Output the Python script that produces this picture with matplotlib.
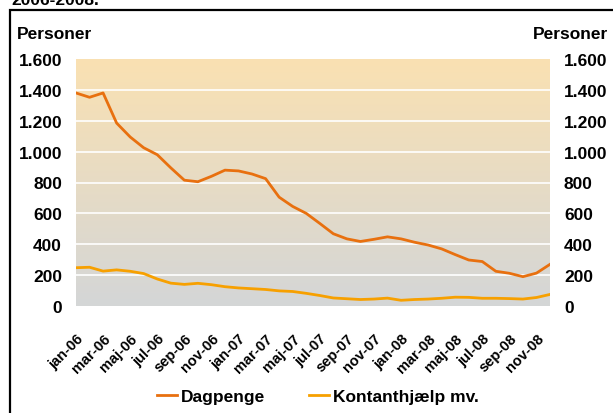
import numpy as np
import matplotlib
matplotlib.use('Agg')
import matplotlib.pyplot as plt
from matplotlib.colors import LinearSegmentedColormap
from matplotlib.patches import Rectangle

plt.rcParams['font.family'] = ['Liberation Sans', 'DejaVu Sans']
plt.rcParams['font.weight'] = 'bold'

# Data (antal personer, månedlig jan-06 .. dec-08)
maaneder = ['jan', 'feb', 'mar', 'apr', 'maj', 'jun', 'jul', 'aug', 'sep', 'okt', 'nov', 'dec']
aar = ['06', '07', '08']
labels = [m + '-' + a for a in aar for m in maaneder]

dagpenge = [1380, 1352, 1380, 1185, 1095, 1025, 980, 895, 815, 805, 840, 880,
            875, 855, 825, 705, 645, 600, 535, 468, 435, 418, 432, 448,
            435, 413, 395, 370, 333, 298, 288, 225, 212, 190, 213, 270]
kontant = [248, 251, 226, 234, 225, 210, 175, 148, 140, 147, 138, 125,
           117, 112, 107, 98, 94, 82, 68, 52, 47, 42, 45, 51,
           37, 42, 45, 50, 57, 56, 50, 50, 48, 45, 55, 75]

yticks = [0, 200, 400, 600, 800, 1000, 1200, 1400, 1600]
ytick_labels = ['0', '200', '400', '600', '800', '1.000', '1.200', '1.400', '1.600']

x = np.arange(len(labels))

fig = plt.figure(figsize=(6.13, 4.14), dpi=100)
ax = fig.add_axes([76 / 613, 1 - 307 / 414, 474 / 613, 247 / 414])

# baggrund med gradient (orange top -> grå bund)
cmap = LinearSegmentedColormap.from_list('bg', ['#D4D6D7', '#FAE1B2'])
grad = np.linspace(0, 1, 256).reshape(-1, 1)
ax.imshow(grad, aspect='auto', cmap=cmap, origin='lower',
          extent=[0, len(labels) - 1, 0, 1600], zorder=0)

for v in yticks[1:-1]:
    ax.axhline(v, color='white', lw=1.2, zorder=1)

ax.plot(x, dagpenge, color='#E8700F', lw=2.0, label='Dagpenge', zorder=3)
ax.plot(x, kontant, color='#F7A000', lw=2.0, label='Kontanthjælp mv.', zorder=3)

ax.set_xlim(0, len(labels) - 1)
ax.set_ylim(0, 1600)
ax.set_yticks(yticks)
ax.set_yticklabels(ytick_labels)
ax.set_xticks(x[::2])
ax.set_xticklabels(labels[::2], rotation=45, ha='right', va='top',
                   rotation_mode='anchor', fontsize=10.5)
ax.tick_params(axis='x', length=0, pad=18)
ax.tick_params(axis='y', length=0, labelsize=12.5, labelright=True, pad=10)
for s in ax.spines.values():
    s.set_visible(False)

fig.text(17 / 613, 1 - 39 / 414, 'Personer', fontsize=12.5, va='baseline')
fig.text(608 / 613, 1 - 39 / 414, 'Personer', fontsize=12.5, va='baseline', ha='right')
# titlen er skåret af i toppen, som i originalen
fig.text(11 / 613, 1 - 5 / 414, '2006-2008.', fontsize=12.5, va='baseline')

# ramme
fig.patches.append(Rectangle((10 / 613, -0.1), 1.2, 1.1 - 11 / 414,
                             transform=fig.transFigure, fill=False,
                             edgecolor='black', lw=1.6))

fig.legend(loc='center', bbox_to_anchor=(318 / 613, 1 - 397 / 414), ncol=2,
           frameon=False, fontsize=12.5, handlelength=1.15, handletextpad=0.25,
           columnspacing=2.5)

fig.savefig('out.png', dpi=100)
